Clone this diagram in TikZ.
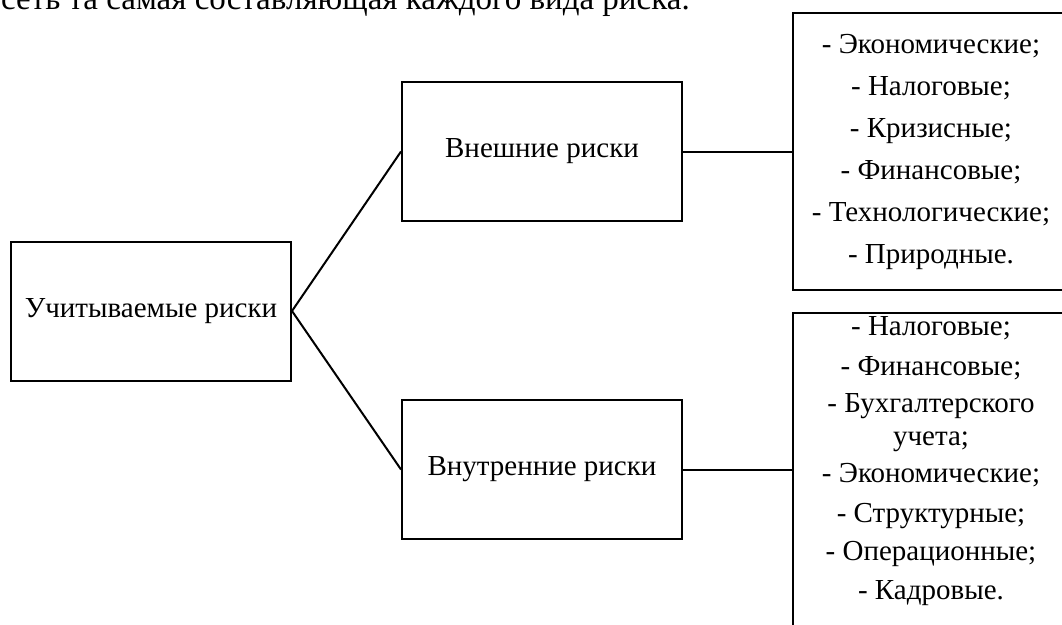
\documentclass[tikz,border=0pt]{standalone}
\usepackage{fontspec}
\setmainfont{Liberation Serif}
\usetikzlibrary{positioning}

\tikzset{
	riskbox/.style={draw, line width=2pt, minimum width=280pt, minimum height=139pt, inner sep=0pt},
	listbox/.style={draw, line width=2pt, align=center, inner xsep=0pt, minimum width=276pt},
	link/.style={line width=2pt}
}

\begin{document}
\begin{tikzpicture}[x=1pt, y=-1pt, font=\fontsize{29}{33}\selectfont]
		
		\useasboundingbox (0,0) rectangle (1062,624);
		\clip (0,0) rectangle (1062,624);
		
		% end of the paragraph above the scheme
		\node[anchor=base west, inner sep=0pt, font=\fontsize{33}{40}\selectfont] (para) at (1,9.5) {сеть та самая составляющая каждого вида риска.};
		
		\node[riskbox] (all) at (151,311) {Учитываемые риски};
		\node[riskbox] (ext) at (542,151.5) {Внешние риски};
		\node[riskbox] (int) at (542,469.5) {Внутренние риски};
		
		\node[listbox, minimum height=277pt] (extlist) at (931,151.5) {- Экономические;\\[9pt] - Налоговые;\\[9pt] - Кризисные;\\[9pt] - Финансовые;\\[9pt] - Технологические;\\[9pt] - Природные.};
		\node[listbox, anchor=north, inner ysep=4pt, text depth=60pt] (intlist) at (931,312) {- Налоговые;\\[7pt] - Финансовые;\\[4pt] - Бухгалтерского\\ учета;\\[4pt] - Экономические;\\[7pt] - Структурные;\\[5pt] - Операционные;\\[6pt] - Кадровые.};
		
		\draw[link] (ext.west) -- (all.east) -- (int.west);
		\draw[link] (ext.east) -- (ext.east -| extlist.west);
		\draw[link] (int.east) -- (int.east -| intlist.west);
		
	\end{tikzpicture}
\end{document}
